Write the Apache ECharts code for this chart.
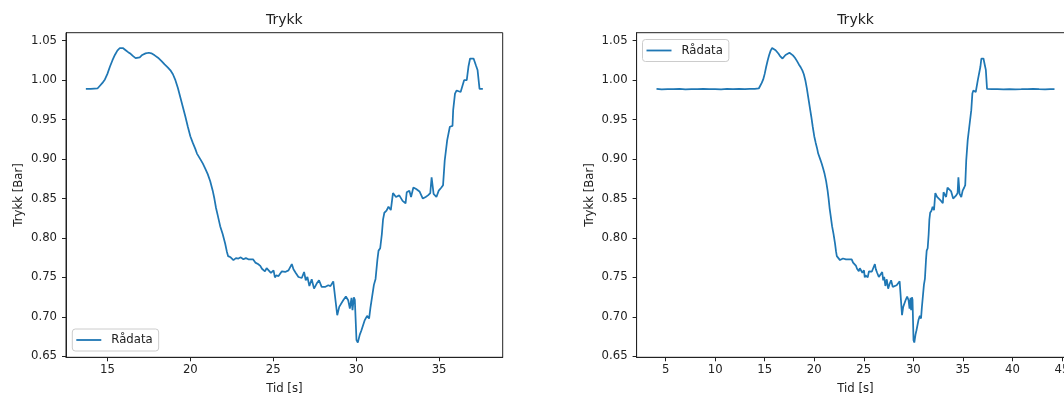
<!DOCTYPE html>
<html>
<head>
<meta charset="utf-8">
<script src="https://cdn.jsdelivr.net/npm/echarts@6/dist/echarts.min.js"></script>
<style>
  html, body { margin: 0; padding: 0; background: #fff; }
  #chart { width: 1064px; height: 394px; }
</style>
</head>
<body>
<div id="chart"></div>
<script>
// Pressure log: time [s] and pressure [bar]
// Main segment (shown zoomed in the left panel)
const tidHoved = [
  13.70, 14.00, 14.40, 14.55, 14.70, 14.85, 15.00, 15.15, 15.30, 15.45,
  15.60, 15.75, 15.85, 15.95, 16.10, 16.25, 16.40, 16.55, 16.70, 16.80,
  16.95, 17.10, 17.30, 17.50, 17.65, 17.85, 18.05, 18.25, 18.45, 18.65,
  18.80, 18.95, 19.10, 19.25, 19.40, 19.55, 19.70, 19.85, 20.00, 20.15,
  20.30, 20.40, 20.50, 20.60, 20.75, 20.90, 21.05, 21.20, 21.35, 21.45,
  21.55, 21.65, 21.80, 21.95, 22.10, 22.20, 22.28, 22.43, 22.60, 22.75,
  22.90, 23.04, 23.20, 23.35, 23.50, 23.62, 23.78, 23.92, 24.08, 24.22,
  24.32, 24.42, 24.50, 24.60, 24.72, 24.86, 25.02, 25.10, 25.18, 25.32,
  25.40, 25.52, 25.64, 25.72, 25.82, 25.92, 26.00, 26.12, 26.22, 26.35,
  26.52, 26.72, 26.86, 26.96, 27.06, 27.18, 27.32, 27.46, 27.52, 27.62,
  27.76, 27.92, 28.12, 28.32, 28.45, 28.62, 28.73, 28.86, 28.90, 28.98,
  29.10, 29.22, 29.38, 29.42, 29.52, 29.62, 29.72, 29.78, 29.86, 29.92,
  30.02, 30.10, 30.14, 30.22, 30.32, 30.40, 30.52, 30.66, 30.78, 30.86,
  30.97, 31.07, 31.17, 31.28, 31.35, 31.45, 31.55, 31.62, 31.70, 31.83,
  31.95, 32.09, 32.22, 32.40, 32.60, 32.80, 32.98, 33.05, 33.21, 33.31,
  33.45, 33.62, 33.82, 33.92, 34.02, 34.19, 34.33, 34.47, 34.55, 34.67,
  34.84, 34.98, 35.14, 35.24, 35.34, 35.49, 35.65, 35.81, 35.85, 35.96,
  36.06, 36.16, 36.30, 36.42, 36.51, 36.67, 36.77, 36.87, 36.97, 37.08,
  37.22, 37.32, 37.44, 37.64
];
const trykkHoved = [
  0.9890, 0.9890, 0.9895, 0.9930, 0.9965, 1.0010, 1.0080, 1.0170, 1.0250, 1.0320,
  1.0375, 1.0408, 1.0415, 1.0405, 1.0380, 1.0355, 1.0335, 1.0305, 1.0280, 1.0275,
  1.0290, 1.0320, 1.0340, 1.0348, 1.0340, 1.0315, 1.0285, 1.0245, 1.0200, 1.0160,
  1.0125, 1.0075, 1.0000, 0.9900, 0.9780, 0.9660, 0.9540, 0.9410, 0.9290, 0.9205,
  0.9130, 0.9070, 0.9060, 0.9000, 0.8945, 0.8880, 0.8810, 0.8720, 0.8600, 0.8500,
  0.8380, 0.8290, 0.8150, 0.8050, 0.7930, 0.7830, 0.7770, 0.7755, 0.7720, 0.7745,
  0.7740, 0.7755, 0.7730, 0.7745, 0.7730, 0.7713, 0.7730, 0.7688, 0.7670, 0.7646,
  0.7610, 0.7616, 0.7578, 0.7617, 0.7610, 0.7559, 0.7590, 0.7500, 0.7526, 0.7518,
  0.7500, 0.7578, 0.7553, 0.7570, 0.7575, 0.7590, 0.7565, 0.7670, 0.7603, 0.7560,
  0.7506, 0.7493, 0.7569, 0.7464, 0.7506, 0.7392, 0.7477, 0.7358, 0.7345, 0.7422,
  0.7464, 0.7380, 0.7380, 0.7401, 0.7390, 0.7451, 0.7435, 0.7021, 0.7006, 0.7127,
  0.7150, 0.7211, 0.7259, 0.7283, 0.7211, 0.7105, 0.7241, 0.7084, 0.7249, 0.7217,
  0.6705, 0.6675, 0.6690, 0.6775, 0.6831, 0.6830, 0.6960, 0.7013, 0.6979, 0.7114,
  0.7124, 0.7406, 0.7481, 0.7722, 0.7840, 0.7870, 0.8050, 0.8232, 0.8320, 0.8346,
  0.8396, 0.8354, 0.8570, 0.8520, 0.8540, 0.8470, 0.8440, 0.8580, 0.8600, 0.8520,
  0.8640, 0.8620, 0.8590, 0.8580, 0.8500, 0.8520, 0.8540, 0.8570, 0.8770, 0.8560,
  0.8520, 0.8600, 0.8640, 0.8670, 0.8980, 0.9240, 0.9410, 0.9420, 0.9620, 0.9830,
  0.9870, 0.9880, 0.9850, 0.9860, 1.0000, 1.0000, 1.0170, 1.0275, 1.0260, 1.0275,
  1.0190, 1.0130, 0.9890, 0.9890
];
// Steady level before the event
const tidFoer = [4.08, 4.6, 5.2, 5.8, 6.4, 7.0, 7.6, 8.2, 8.8, 9.4, 10.0, 10.6, 11.2, 11.8, 12.4, 13.0, 13.5];
const trykkFoer = [0.9890, 0.9884, 0.9888, 0.9886, 0.9889, 0.9885, 0.9888, 0.9887, 0.9889, 0.9886, 0.9888, 0.9885, 0.9889, 0.9887, 0.9890, 0.9886, 0.9889];
// Steady level after the event
const tidEtter = [37.9, 38.5, 39.1, 39.7, 40.3, 40.9, 41.5, 42.1, 42.7, 43.3, 43.8, 44.25];
const trykkEtter = [0.9888, 0.9886, 0.9884, 0.9887, 0.9885, 0.9886, 0.9888, 0.9890, 0.9887, 0.9885, 0.9887, 0.9886];

const xTicksVenstre = [15, 20, 25, 30, 35];
const xTicksHoyre = [5, 10, 15, 20, 25, 30, 35, 40, 45];
const yTicks = [0.65, 0.70, 0.75, 0.80, 0.85, 0.90, 0.95, 1.00, 1.05];

const pairs = (xs, ys) => xs.map((x, i) => [x, ys[i]]);
const hovedData = pairs(tidHoved, trykkHoved);
const heleData = pairs(tidFoer, trykkFoer).concat(hovedData, pairs(tidEtter, trykkEtter));

// Auto-range with 5 % padding on each side
function range(vals) {
  const lo = Math.min(...vals), hi = Math.max(...vals);
  const pad = 0.05 * (hi - lo);
  return [lo - pad, hi + pad];
}
const xVenstre = range(tidHoved);
const xHoyre = range(tidFoer.concat(tidHoved, tidEtter));
const yRange = range(trykkHoved.concat(trykkFoer, trykkEtter));

const FONT = 'DejaVu Sans';
const INK = '#222';
const FS = 11.7;

function xAxis(idx, r, ticks) {
  return {
    type: 'value', gridIndex: idx, min: r[0], max: r[1],
    name: 'Tid [s]', nameLocation: 'middle', nameGap: 26,
    nameTextStyle: { fontFamily: FONT, fontSize: FS, color: INK },
    axisLine: { show: true, lineStyle: { color: INK, width: 1 } },
    axisTick: { show: true, customValues: ticks, length: 4, lineStyle: { color: INK, width: 1 } },
    axisLabel: { customValues: ticks, margin: 7, fontFamily: FONT, fontSize: FS, color: INK },
    splitLine: { show: false }
  };
}
function yAxis(idx) {
  return {
    type: 'value', gridIndex: idx, min: yRange[0], max: yRange[1],
    name: 'Trykk [Bar]', nameLocation: 'middle', nameRotate: 90, nameGap: 41,
    nameTextStyle: { fontFamily: FONT, fontSize: FS, color: INK },
    axisLine: { show: true, lineStyle: { color: INK, width: 1 } },
    axisTick: { show: true, customValues: yTicks, length: 4, lineStyle: { color: INK, width: 1 } },
    axisLabel: { customValues: yTicks, margin: 9, fontFamily: FONT, fontSize: FS, color: INK,
                 formatter: v => v.toFixed(2) },
    splitLine: { show: false }
  };
}
function legend(pos) {
  return Object.assign({
    data: ['Rådata'], icon: 'rect', itemWidth: 25, itemHeight: 1.8,
    padding: [4, 6, 4, 4], borderColor: '#cccccc', borderWidth: 1, borderRadius: 3,
    backgroundColor: 'rgba(255,255,255,0.8)', selectedMode: false,
    itemStyle: { borderWidth: 0 },
    textStyle: { fontFamily: FONT, fontSize: FS, color: INK, lineHeight: 14, padding: [0, 0, 0, 5] }
  }, pos);
}
function title(x) {
  return {
    type: 'text', x: x, y: 20.5,
    style: { text: 'Trykk', fontFamily: FONT, fontSize: 14, fill: INK,
             textAlign: 'center', textVerticalAlign: 'middle', align: 'center', verticalAlign: 'middle' }
  };
}
const line = (xi, data) => ({
  name: 'Rådata', type: 'line', xAxisIndex: xi, yAxisIndex: xi, data: data,
  showSymbol: false, symbol: 'none', animation: false,
  lineStyle: { color: '#1f77b4', width: 1.75 }, itemStyle: { color: '#1f77b4' }
});

const chart = echarts.init(document.getElementById('chart'), null, { renderer: 'canvas' });
chart.setOption({
  animation: false,
  backgroundColor: '#ffffff',
  grid: [
    { left: 66, top: 32.7, right: 561.3, bottom: 36.7, show: true, borderColor: INK, borderWidth: 1, outerBoundsMode: 'none' },
    { left: 636.6, top: 32.7, right: -10.4, bottom: 36.7, show: true, borderColor: INK, borderWidth: 1, outerBoundsMode: 'none' }
  ],
  xAxis: [xAxis(0, xVenstre, xTicksVenstre), xAxis(1, xHoyre, xTicksHoyre)],
  yAxis: [yAxis(0), yAxis(1)],
  legend: [legend({ left: 72.3, top: 329 }), legend({ left: 642.5, top: 39.5 })],
  graphic: [title(284.3), title(855.5)],
  series: [line(0, hovedData), line(1, heleData)]
});
</script>
</body>
</html>
